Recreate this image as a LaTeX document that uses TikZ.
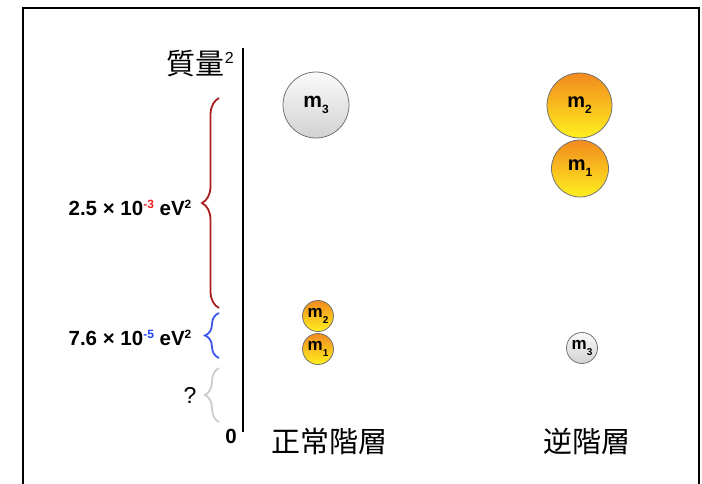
\documentclass[tikz,border=0pt]{standalone}
\usepackage{fontspec}
\setmainfont{Liberation Sans}
\newfontfamily\cjk{Noto Sans CJK JP}
\usetikzlibrary{decorations.pathreplacing}
\definecolor{bracered}{HTML}{AA1E1E}
\definecolor{braceblue}{HTML}{3B55F0}
\definecolor{bracegray}{HTML}{CCCCCC}
\definecolor{supred}{HTML}{EE2222}
\definecolor{supblue}{HTML}{2244FF}
\definecolor{ballorange}{HTML}{F28A1E}
\definecolor{ballyellow}{HTML}{FFF01E}
\definecolor{ballgraytop}{HTML}{FAFAFA}
\definecolor{ballgraybot}{HTML}{D2D2D2}
\newcommand\masslab[4]{{\fontsize{#2}{#2}\selectfont\bfseries m}\raisebox{-#4pt}{\fontsize{#3}{#3}\selectfont\bfseries #1}}
\newcommand\expo[2]{\raisebox{7.5pt}{\fontsize{12}{12}\selectfont\color{#1}#2}}
\begin{document}
\begin{tikzpicture}[x=1pt,y=-1pt,
  orangeball/.style={circle, draw=black!55, line width=0.8, inner sep=0pt,
    top color=ballorange, bottom color=ballyellow},
  grayball/.style={circle, draw=black!55, line width=0.8, inner sep=0pt,
    top color=ballgraytop, bottom color=ballgraybot},
  bracestyle/.style={decorate, decoration={brace, amplitude=#1}, line width=1.8},
  lab/.style={font=\fontsize{20.5}{22}\selectfont\bfseries, inner sep=0pt},
  cjklab/.style={font=\cjk\fontsize{29}{32}\selectfont, inner sep=0pt}]
\useasboundingbox (0,0) rectangle (702,484);
% frame
\draw[line width=2] (23,484) -- (23,8) -- (699,8) -- (699,484);
% axis
\coordinate (axtop) at (243,48);
\coordinate (axbot) at (243,432);
\draw[line width=2] (axtop) -- (axbot);
\node[inner sep=0pt, anchor=east] (mass) at (234,64) {{\cjk\fontsize{29}{32}\selectfont 質量}\raisebox{11pt}{\fontsize{16}{16}\selectfont 2}};
\node[lab] (zero) at (231,436) {0};
% braces
\coordinate (rb) at (219,308);
\coordinate (rt) at (219,98);
\draw[bracestyle=17, bracered] (rb) -- (rt);
\coordinate (bb) at (219,358);
\coordinate (bt) at (219,313);
\draw[bracestyle=14, braceblue] (bb) -- (bt);
\coordinate (gb) at (219,422);
\coordinate (gt) at (219,368);
\draw[bracestyle=14, bracegray] (gb) -- (gt);
\node[lab] (big) at (130,208) {2.5 × 10\expo{supred}{-3} eV\expo{black}{2}};
\node[lab] (small) at (130,338) {7.6 × 10\expo{supblue}{-5} eV\expo{black}{2}};
\node[inner sep=0pt, font=\fontsize{23}{24}\selectfont] (q) at (190,395) {?};
% normal hierarchy
\node[grayball, minimum size=66] (n3) at (316,105) {\masslab{3}{21}{12}{6}};
\node[orangeball, minimum size=31] (n2) at (318,316) {\masslab{2}{17}{10}{6}};
\node[orangeball, minimum size=31] (n1) at (318,349) {\masslab{1}{17}{10}{6}};
% inverted hierarchy
\node[orangeball, minimum size=65] (i2) at (579.5,105.5) {\masslab{2}{20}{12}{6}};
\node[orangeball, minimum size=57] (i1) at (580,168.5) {\masslab{1}{20}{12}{6}};
\node[grayball, minimum size=31] (i3) at (582,348) {\masslab{3}{17}{10}{6}};
% labels
\node[cjklab] (normal) at (329,441) {正常階層};
\node[cjklab] (inverted) at (587,441) {逆階層};
\end{tikzpicture}
\end{document}
